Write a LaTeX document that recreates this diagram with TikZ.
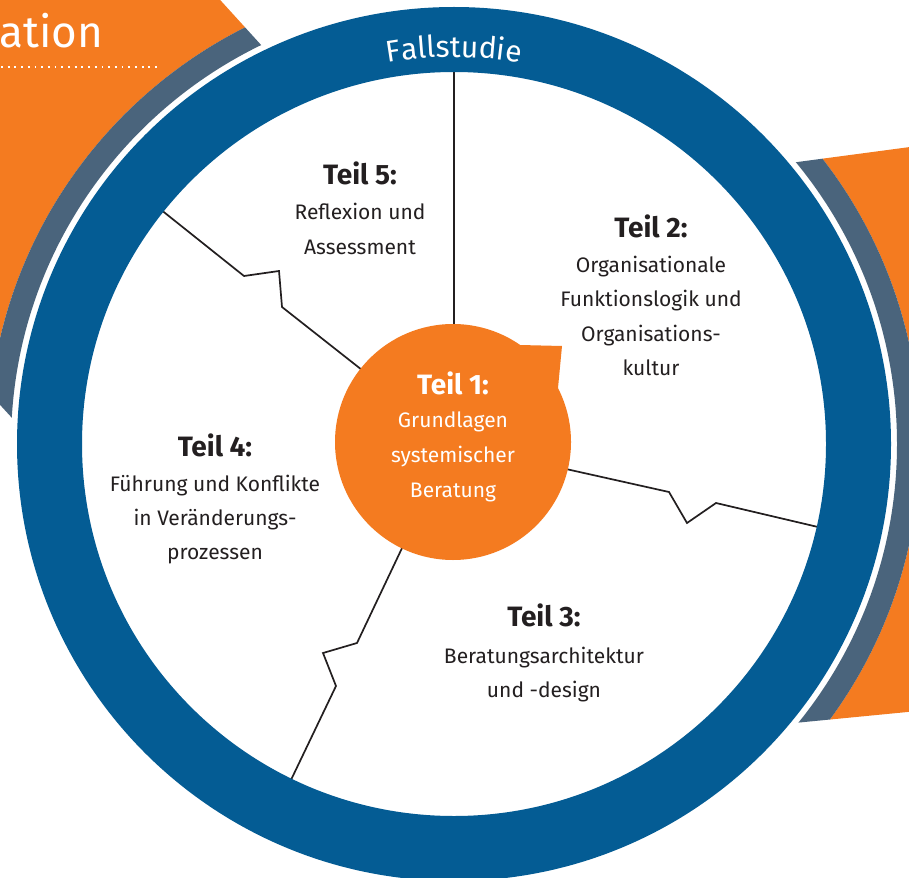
\documentclass[tikz,border=0pt]{standalone}
\usepackage{fontspec}
\setmainfont{Fira Sans}
\usetikzlibrary{decorations.text}
\definecolor{ringblue}{HTML}{045C94}
\definecolor{slate}{HTML}{4A647C}
\definecolor{accent}{HTML}{F47B20}
\definecolor{ink}{HTML}{231F20}
\tikzset{
  titletext/.style={anchor=base, inner sep=0pt, text=ink, font=\fontsize{28}{28}\selectfont\bfseries},
  bodytext/.style={anchor=base, inner sep=0pt, text=ink, font=\fontsize{21}{21}\selectfont},
  divider/.style={draw=ink, line width=1.7pt, line join=miter},
}
\begin{document}
\begin{tikzpicture}[x=1pt,y=1pt]
\useasboundingbox (0,0) rectangle (909,-877);
\fill[white] (0,0) rectangle (909,-877);
\coordinate (c) at (454,-444);
% left orange / slate segment
\begin{scope}
  \clip (-20,20) -- (202,20) -- (302,-90) -- (24,-431) -- (-20,-383) -- cycle;
  \fill[accent, even odd rule] (-20,20) rectangle (330,-450) (c) circle[radius=466];
  \fill[slate, even odd rule] (c) circle[radius=466] (c) circle[radius=443];
\end{scope}
% right orange / slate segment
\begin{scope}
  \clip (685,-177) -- (1000,-135) -- (1000,-703) -- (681,-734) -- cycle;
  \fill[accent, even odd rule] (600,-100) rectangle (1000,-760) (c) circle[radius=466];
  \fill[slate, even odd rule] (c) circle[radius=466] (c) circle[radius=443];
\end{scope}
% heading fragment
\node[anchor=base west, inner sep=0pt, text=white, font=\fontsize{44}{44}\selectfont] (head) at (-1,-48) {ation};
\draw[white, line width=1.8pt, dash pattern=on 1.8pt off 4.9pt] (1,-67) -- (157,-67);
% dividers
\coordinate (a1) at (454,-70);  \coordinate (a2) at (454,-330);
\draw[divider] (a1) -- (a2);
\coordinate (b1) at (160,-209); \coordinate (b2) at (244,-276); \coordinate (b3) at (279,-271);
\coordinate (b4) at (282,-307); \coordinate (b5) at (362,-370);
\draw[divider] (b1) -- (b2) -- (b3) -- (b4) -- (b5);
\coordinate (d1) at (566,-469); \coordinate (d2) at (669,-492); \coordinate (d3) at (687,-523);
\coordinate (d4) at (716,-503); \coordinate (d5) at (818,-527);
\draw[divider] (d1) -- (d2) -- (d3) -- (d4) -- (d5);
\coordinate (e1) at (403,-546); \coordinate (e2) at (357,-643); \coordinate (e3) at (323,-653);
\coordinate (e4) at (336,-686); \coordinate (e5) at (290,-782);
\draw[divider] (e1) -- (e2) -- (e3) -- (e4) -- (e5);
% blue ring
\fill[ringblue, even odd rule] (c) circle[radius=437] (c) circle[radius=372];
% ring label
\path[decorate, decoration={text along path, text align=center,
  text={|\fontsize{30}{30}\selectfont\color{white}|Fallstudie}}]
  (290.4,-93.3) arc[start angle=115, end angle=65, radius=387];
% centre disc
\coordinate (m) at (453,-442);
\fill[accent] (m) circle[radius=118];
\fill[accent] (520,-345) -- (562,-346) -- (558,-388) -- (m) -- cycle;
% texts
\node[titletext, text=white] (t1) at (453,-394) {Teil 1:};
\node[bodytext, text=white] (t1a) at (453,-427) {Grundlagen};
\node[bodytext, text=white] (t1b) at (453,-462) {systemischer};
\node[bodytext, text=white] (t1c) at (453,-497) {Beratung};

\node[titletext] (t5) at (360,-185) {Teil 5:};
\node[bodytext] (t5a) at (360,-220) {Reflexion und};
\node[bodytext] (t5b) at (360,-254) {Assessment};

\node[titletext] (t2) at (651,-237) {Teil 2:};
\node[bodytext] (t2a) at (651,-272) {Organisationale};
\node[bodytext] (t2b) at (651,-306) {Funktionslogik und};
\node[bodytext] (t2c) at (651,-341) {Organisations-};
\node[bodytext] (t2d) at (651,-375) {kultur};

\node[titletext] (t4) at (215,-456) {Teil 4:};
\node[bodytext] (t4a) at (215,-491) {Führung und Konflikte};
\node[bodytext] (t4b) at (215,-525) {in Veränderungs-};
\node[bodytext] (t4c) at (215,-559) {prozessen};

\node[titletext] (t3) at (544,-626) {Teil 3:};
\node[bodytext] (t3a) at (544,-663) {Beratungsarchitektur};
\node[bodytext] (t3b) at (544,-697) {und -design};
\end{tikzpicture}
\end{document}
